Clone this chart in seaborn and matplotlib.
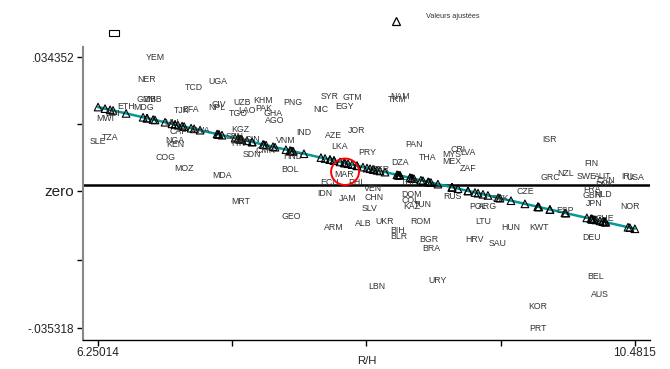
# Résidus vs R/H avec valeurs ajustées (labels = codes pays)

import numpy as np
import pandas as pd
import matplotlib.pyplot as plt
import seaborn as sns
from matplotlib.patches import Ellipse, Rectangle
from matplotlib.lines import Line2D

codes = ['SLE', 'TZA', 'MWI', 'BDI', 'ETH', 'MDG', 'YEM', 'NER', 'TCD', 'UGA', 'GMB', 'ZMB',
         'TJK', 'BFA', 'NPL', 'CIV', 'UZB', 'KHM', 'TGO', 'LAO', 'PAK', 'GHA', 'AGO', 'PNG',
         'NIC', 'SYR', 'GTM', 'EGY', 'NAM', 'TKM', 'NGA', 'KEN', 'COG', 'MOZ', 'MDA', 'MRT',
         'MLI', 'CAF', 'BWA', 'KGZ', 'SEN', 'GIN', 'HTI', 'RWA', 'SDN', 'CMR', 'VNM', 'HND',
         'BOL', 'IND', 'AZE', 'JOR', 'LKA', 'PRY', 'MAR', 'ECU', 'PHL', 'PER', 'DZA', 'PAN',
         'THA', 'MYS', 'CRI', 'LVA', 'MEX', 'ZAF', 'TUR', 'IDN', 'JAM', 'VEN', 'CHN', 'SLV',
         'DOM', 'COL', 'KAZ', 'TUN', 'RUS', 'POL', 'ARG', 'SVK', 'CZE', 'LTU', 'HUN', 'KWT',
         'HRV', 'SAU', 'GEO', 'ARM', 'ALB', 'UKR', 'ROM', 'BIH', 'BLR', 'BGR', 'BRA', 'URY',
         'LBN', 'ISR', 'GRC', 'NZL', 'FIN', 'SWE', 'AUT', 'CAN', 'DNK', 'IRL', 'USA', 'FRA',
         'GBR', 'NLD', 'JPN', 'NOR', 'ESP', 'CHE', 'DEU', 'BEL', 'AUS', 'KOR', 'PRT']

rh = [6.25014, 6.345, 6.305, 6.368, 6.471, 6.605, 6.699, 6.636, 7.007, 7.196, 6.636, 6.684,
      6.912, 6.983, 7.188, 7.204, 7.385, 7.550, 7.353, 7.424, 7.558, 7.629, 7.645, 7.787,
      8.007, 8.078, 8.252, 8.197, 8.630, 8.606, 6.857, 6.857, 6.778, 6.928, 7.227, 7.377,
      6.833, 6.880, 7.054, 7.369, 7.330, 7.464, 7.353, 7.369, 7.464, 7.574, 7.731, 7.787,
      7.763, 7.873, 8.110, 8.291, 8.157, 8.370, 8.189, 8.078, 8.291, 8.472, 8.630, 8.740,
      8.851, 9.040, 9.087, 9.166, 9.040, 9.166, 8.709, 8.039, 8.220, 8.417, 8.425, 8.394,
      8.724, 8.709, 8.724, 8.811, 9.040, 9.245, 9.323, 9.418, 9.615, 9.284, 9.505, 9.725,
      9.221, 9.403, 7.771, 8.110, 8.338, 8.512, 8.795, 8.614, 8.622, 8.858, 8.874, 8.929,
      8.449, 9.812, 9.812, 9.938, 10.135, 10.103, 10.229, 10.253, 10.245, 10.427, 10.4815, 10.143,
      10.143, 10.229, 10.159, 10.442, 9.930, 10.245, 10.143, 10.174, 10.206, 9.717, 9.717]

resid = [0.0126, 0.0136, 0.0185, 0.0198, 0.0218, 0.0213, 0.034352, 0.0285, 0.0265, 0.0280, 0.0236, 0.0234,
         0.0206, 0.0208, 0.0213, 0.0221, 0.0226, 0.0231, 0.0200, 0.0206, 0.0211, 0.0200, 0.0182, 0.0226,
         0.0208, 0.0242, 0.0239, 0.0218, 0.0242, 0.0234, 0.0129, 0.0118, 0.0085, 0.0057, 0.0039, -0.0028,
         0.0175, 0.0152, 0.0154, 0.0157, 0.0139, 0.0131, 0.0121, 0.0126, 0.0093, 0.0103, 0.0129, 0.0087,
         0.0054, 0.0149, 0.0141, 0.0154, 0.0113, 0.0098, 0.0041, 0.0021, 0.0021, 0.0054, 0.0072, 0.0118,
         0.0085, 0.0093, 0.0105, 0.0098, 0.0075, 0.0057, 0.0021, -0.0008, -0.0021, 0.0005, -0.0018, -0.0046,
         -0.0010, -0.0026, -0.0041, -0.0036, -0.0015, -0.0039, -0.0039, -0.0021, -0.0003, -0.0080, -0.0093, -0.0095,
         -0.0126, -0.0136, -0.0067, -0.0095, -0.0085, -0.0080, -0.0080, -0.0103, -0.0118, -0.0126, -0.0149, -0.0231,
         -0.0247, 0.0131, 0.0033, 0.0044, 0.0069, 0.0036, 0.0036, 0.0026, 0.0015, 0.0036, 0.0033, 0.0003,
         -0.0013, -0.0010, -0.0033, -0.0039, -0.0051, -0.0072, -0.0121, -0.0221, -0.0267, -0.0298, -0.035318]

data = pd.DataFrame({'code': codes, 'rh': rh, 'resid': resid})

# droite des valeurs ajustées
b, a = np.polyfit(data['rh'], data['resid'], 1)
data['fit'] = a + b * data['rh']
data = data.sort_values('rh')

sns.set_theme(style='white')
plt.rcParams['font.family'] = ['Liberation Sans', 'DejaVu Sans']

fig = plt.figure(figsize=(6.7, 3.69), dpi=100)
ax = fig.add_axes([0.124, 0.079, 0.846, 0.794])

sns.lineplot(data=data, x='rh', y='fit', color='#009a9a', lw=1.8, ax=ax, estimator=None, sort=True)
sns.scatterplot(data=data, x='rh', y='fit', marker='^', s=30, facecolor='none', edgecolor='black',
                linewidth=0.8, ax=ax, zorder=3)
ax.axhline(0.0015, color='black', lw=1.8, zorder=1)

for _, r in data.iterrows():
    ax.text(r['rh'], r['resid'], r['code'], fontsize=6.3, color='#333333', ha='center', va='center')

# cercle rouge autour de MAR
ax.add_patch(Ellipse((8.197, 0.0049), 0.22, 0.0068, fill=False, ec='red', lw=1.4, zorder=4))

ax.set_xlim(6.132, 10.60)
ax.set_ylim(-0.0383, 0.0370)
ax.set_xticks([6.25014, 10.4815])
ax.set_xticklabels(['6.25014', '10.4815'])
ax.set_xticks([7.308, 8.366, 9.424], minor=True)
ax.set_yticks([-0.035318, 0, 0.034352])
ax.set_yticklabels(['-.035318', 'zero', '.034352'])
ax.set_yticks([-0.017659, 0.017176], minor=True)
ax.tick_params(axis='both', which='both', direction='out', length=4.5, width=1, color='black',
               labelsize=8.5, labelcolor='#222222', bottom=True, left=True)
ax.tick_params(axis='x', pad=1)
ax.tick_params(axis='y', pad=2)
ax.get_yticklabels()[1].set_fontsize(11)
ax.set_xlabel('R/H', fontsize=8.2, color='#222222', va='center')
ax.xaxis.set_label_coords(0.5, -0.073)
ax.set_ylabel('')
for s in ['top', 'right']:
    ax.spines[s].set_visible(False)
ax.spines['left'].set_color('#888888')
ax.spines['left'].set_linewidth(1.5)
ax.spines['bottom'].set_color('black')
ax.spines['bottom'].set_linewidth(1)

# légende
fig.add_artist(Rectangle((109 / 670, 1 - 36 / 369), 10 / 670, 6 / 369, fill=False, ec='black', lw=0.8))
fig.add_artist(Line2D([396 / 670], [1 - 21 / 369], marker='^', ms=5.5, mfc='none', mec='black', mew=0.9))
fig.text(426 / 670, 1 - 16 / 369, 'Valeurs ajustées', fontsize=5.3, color='#333333', va='center')

fig.savefig('out.png', dpi=100)
